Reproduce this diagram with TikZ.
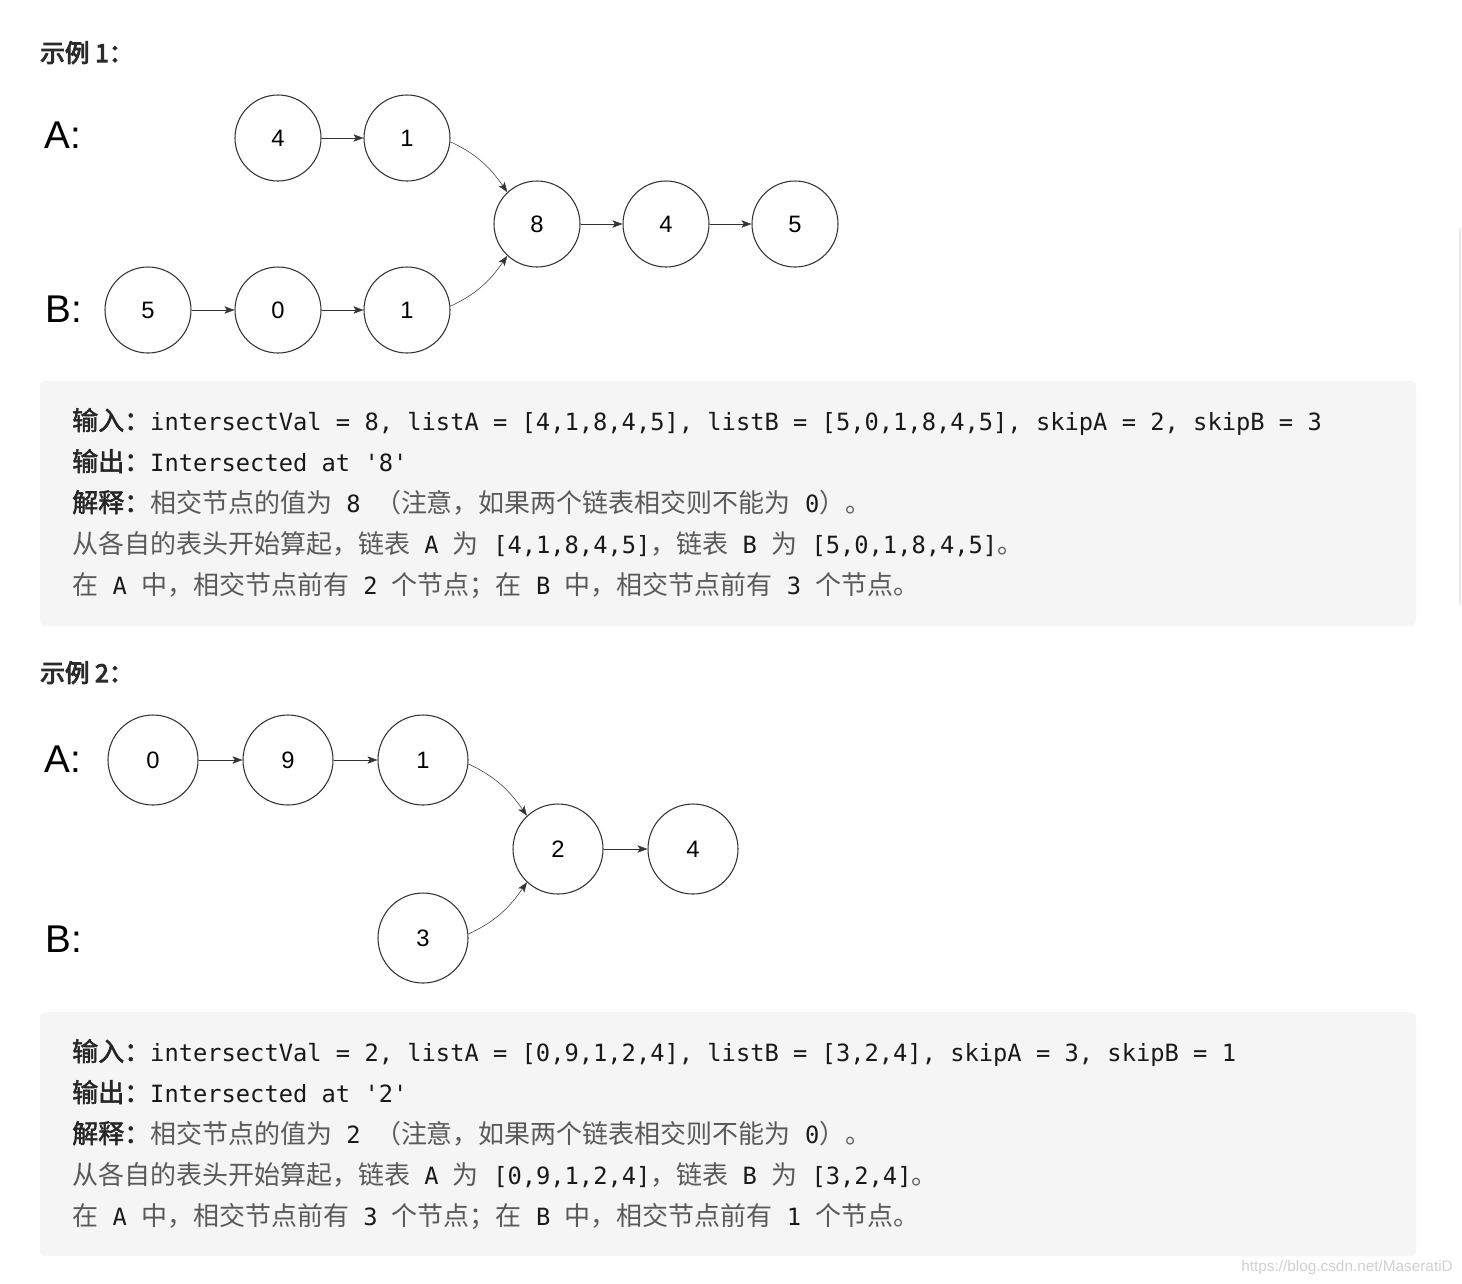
\documentclass[tikz,border=0pt]{standalone}
\usepackage{fontspec}
\usepackage{xcolor}
\usepackage{tikz}
\usetikzlibrary{arrows.meta}

\setmonofont{DejaVu Sans Mono}
\newfontfamily\sansfont{Liberation Sans}
\newfontfamily\zhfont{Noto Sans CJK SC}[Scale=1.095]
\newfontfamily\zhboldfont{Noto Sans CJK SC}[Scale=1.095,FakeBold=2]
\newfontfamily\headfont{Noto Sans CJK SC}[FakeBold=4]

\definecolor{boxgray}{HTML}{F5F5F5}
\definecolor{zhgray}{HTML}{5A5A5A}
\definecolor{labgray}{HTML}{262626}
\definecolor{headgray}{HTML}{2B2B2B}
\definecolor{nodeline}{HTML}{333333}

\newcommand{\codefont}{\ttfamily\fontsize{17.8pt}{20pt}\selectfont\color{black!90}}
\newcommand{\zh}[1]{{\zhfont\color{zhgray}#1}}
\newcommand{\zhlab}[1]{{\zhboldfont\color{labgray}#1}}

\tikzset{
    listnode/.style={circle, draw=nodeline, line width=0.8pt, minimum size=64.5pt,
        inner sep=0pt, font=\sansfont\fontsize{17.8pt}{20pt}\selectfont},
    bignode/.style={listnode, minimum size=67.5pt},
    listlabel/.style={anchor=base west, inner sep=0pt,
        font=\sansfont\fontsize{29pt}{32pt}\selectfont},
    heading/.style={anchor=base west, inner sep=0pt, text=headgray,
        font=\headfont\fontsize{18.5pt}{22pt}\selectfont},
    codeline/.style={anchor=base west, inner sep=0pt, font=\codefont},
    codebox/.style={fill=boxgray, rounded corners=4.5pt}
}

\begin{document}
\begin{tikzpicture}[x=0.75pt, y=-0.75pt, >={Stealth[length=7.5pt, width=5.5pt, inset=1.8pt]}]
    \useasboundingbox[fill=white] (0,0) rectangle (1462,1283);

    % 1. Example 1
    \node[heading] (head1) at (40,62) {示例 1：};
    \node[listlabel] (la1) at (44,148) {A:};
    \node[listlabel] (lb1) at (45,322) {B:};
    \foreach \n/\x/\y/\t in {a1/278/138/4, a2/407/138/1,
        m1/537/224/8, m2/666/224/4, m3/795/224/5,
        b1/148/310/5, b2/278/310/0, b3/407/310/1} {
        \node[listnode] (\n) at (\x,\y) {\t};
    }
    \foreach \p/\q in {a1/a2, b1/b2, b2/b3, m1/m2, m2/m3} {
        \draw[->, nodeline] (\p) -- (\q);
    }
    \draw[->, nodeline] (a2.-5) to[out=-25, in=125] (m1.133);
    \draw[->, nodeline] (b3.5) to[out=25, in=-125] (m1.-133);

    % 2. Box 1
    \fill[codebox] (40,381) rectangle (1416,626);
    \node[codeline] (in1) at (72,430) {\zhlab{输入：}intersectVal = 8, listA = [4,1,8,4,5], listB = [5,0,1,8,4,5], skipA = 2, skipB = 3};
    \node[codeline] (out1) at (72,471) {\zhlab{输出：}Intersected at '8'};
    \node[codeline] (exp1) at (72,512) {\zhlab{解释：}\zh{相交节点的值为} 8 \zh{（注意，如果两个链表相交则不能为} 0\zh{）。}};
    \node[codeline] (from1) at (72,553) {\zh{从各自的表头开始算起，链表} A \zh{为} [4,1,8,4,5]\zh{，链表} B \zh{为} [5,0,1,8,4,5]\zh{。}};
    \node[codeline] (cnt1) at (72,594) {\zh{在} A \zh{中，相交节点前有} 2 \zh{个节点；在} B \zh{中，相交节点前有} 3 \zh{个节点。}};

    % 3. Example 2
    \node[heading] (head2) at (40,682) {示例 2：};
    \node[listlabel] (la2) at (44,772) {A:};
    \node[listlabel] (lb2) at (45,952) {B:};
    \foreach \n/\x/\y/\t in {c1/153/760/0, c2/288/760/9, c3/423/760/1,
        n1/558/849/2, n2/693/849/4, d1/423/938/3} {
        \node[bignode] (\n) at (\x,\y) {\t};
    }
    \foreach \p/\q in {c1/c2, c2/c3, n1/n2} {
        \draw[->, nodeline] (\p) -- (\q);
    }
    \draw[->, nodeline] (c3.-5) to[out=-25, in=125] (n1.133);
    \draw[->, nodeline] (d1.5) to[out=25, in=-125] (n1.-133);

    % 4. Box 2
    \fill[codebox] (40,1012) rectangle (1416,1256);
    \node[codeline] (in2) at (72,1061) {\zhlab{输入：}intersectVal = 2, listA = [0,9,1,2,4], listB = [3,2,4], skipA = 3, skipB = 1};
    \node[codeline] (out2) at (72,1102) {\zhlab{输出：}Intersected at '2'};
    \node[codeline] (exp2) at (72,1143) {\zhlab{解释：}\zh{相交节点的值为} 2 \zh{（注意，如果两个链表相交则不能为} 0\zh{）。}};
    \node[codeline] (from2) at (72,1184) {\zh{从各自的表头开始算起，链表} A \zh{为} [0,9,1,2,4]\zh{，链表} B \zh{为} [3,2,4]\zh{。}};
    \node[codeline] (cnt2) at (72,1225) {\zh{在} A \zh{中，相交节点前有} 3 \zh{个节点；在} B \zh{中，相交节点前有} 1 \zh{个节点。}};

    % 5. Watermark and side bar
    \node[anchor=base east, inner sep=0pt, text=black!18,
        font=\sansfont\fontsize{11.5pt}{13pt}\selectfont] (mark) at (1453,1271) {https://blog.csdn.net/MaseratiD};
    \draw[line width=1.5pt, black!8] (1460,228) -- (1460,605);
\end{tikzpicture}
\end{document}
